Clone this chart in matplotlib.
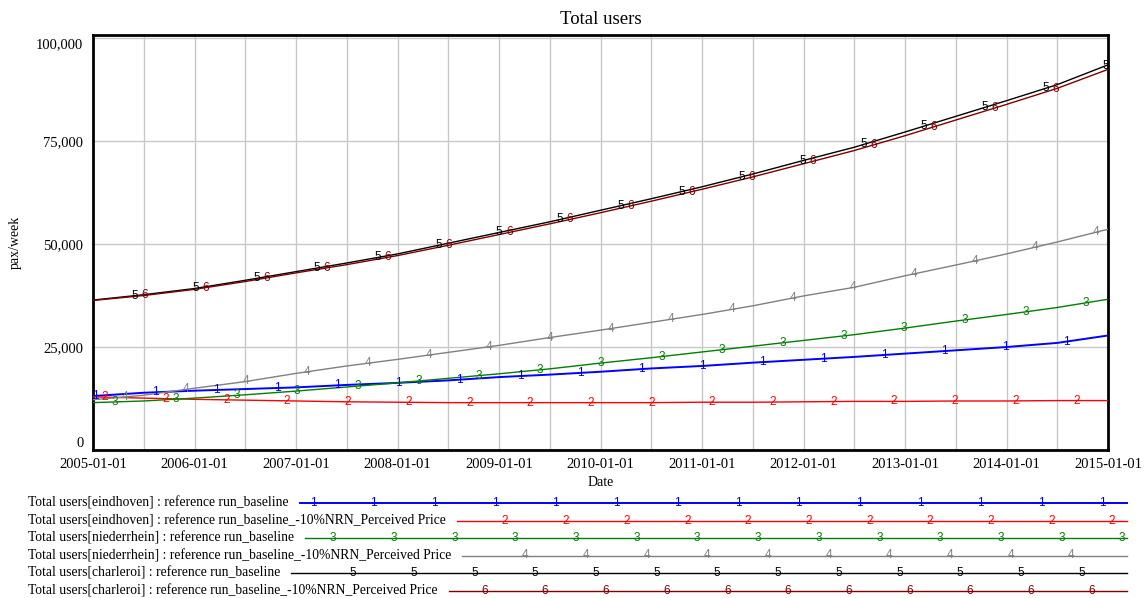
"""Total users, Vensim-style chart: six runs with numbered line markers and a row legend below."""
import numpy as np
import matplotlib

matplotlib.use("Agg")
import matplotlib.pyplot as plt

# half-year steps, 2005-01-01 .. 2015-01-01
years = np.arange(2005.0, 2015.01, 0.5)
tick_years = list(range(2005, 2016))

eind_base = [13.1, 13.9, 14.4, 14.8, 15.2, 15.8, 16.3, 16.9, 17.7, 18.3, 19.0,
             19.8, 20.4, 21.2, 21.9, 22.6, 23.4, 24.2, 25.0, 26.0, 27.8]
eind_price = [12.9, 12.6, 12.3, 12.1, 11.9, 11.7, 11.6, 11.5, 11.5, 11.5, 11.5,
              11.5, 11.6, 11.6, 11.7, 11.8, 11.8, 11.9, 11.9, 12.0, 12.0]
nied_base = [11.5, 11.9, 12.6, 13.4, 14.3, 15.3, 16.3, 17.4, 18.5, 19.7, 21.1,
             22.4, 23.8, 25.2, 26.6, 28.0, 29.6, 31.3, 32.9, 34.6, 36.6]
nied_price = [12.2, 13.3, 15.0, 16.6, 18.6, 20.4, 22.0, 23.7, 25.4, 27.3, 29.1,
              31.0, 32.9, 35.0, 37.4, 39.5, 42.3, 44.9, 47.6, 50.5, 53.6]
char_base = [36.4, 37.7, 39.2, 41.2, 43.3, 45.4, 47.6, 50.2, 52.8, 55.4, 58.2,
             61.0, 63.9, 67.0, 70.3, 73.5, 77.2, 81.0, 84.8, 88.7, 93.5]
char_price = [36.3, 37.5, 39.0, 40.9, 43.0, 45.0, 47.2, 49.7, 52.3, 54.9, 57.6,
              60.4, 63.3, 66.3, 69.5, 72.7, 76.3, 80.1, 83.9, 87.8, 92.4]

names = [
    "Total users[eindhoven] : reference run_baseline",
    "Total users[eindhoven] : reference run_baseline_-10%NRN_Perceived Price",
    "Total users[niederrhein] : reference run_baseline",
    "Total users[niederrhein] : reference run_baseline_-10%NRN_Perceived Price",
    "Total users[charleroi] : reference run_baseline",
    "Total users[charleroi] : reference run_baseline_-10%NRN_Perceived Price",
]
series = [eind_base, eind_price, nied_base, nied_price, char_base, char_price]
colors = ["#0000ff", "#ff0000", "#008000", "#808080", "#000000", "#800000"]
widths = [1.4, 1.0, 1.0, 1.0, 1.0, 1.0]

W, H = 1145, 598
SERIF = "Liberation Serif"
SANS = "Liberation Sans"


def main() -> None:
    fig = plt.figure(figsize=(W / 100, H / 100), dpi=100)
    ax = fig.add_axes([93 / W, 1 - 450 / H, 1015 / W, 415 / H])

    for k, (vals, c, lw) in enumerate(zip(series, colors, widths)):
        v = np.array(vals) * 1000
        ax.plot(years, v, color=c, lw=lw, zorder=3)
        # numbered markers every ~0.6 years, shifted per series (like Vensim)
        px = 2 + 10 * k
        while px <= 1015.5:
            t = 2005 + px / 101.5
            ax.text(t, np.interp(t, years, v), str(k + 1), color=c, fontsize=8.5,
                    family=SANS, ha="center", va="center", zorder=4)
            px += 60.7

    ax.set_xlim(2005, 2015)
    ax.set_ylim(0, 100750)
    ax.set_xticks(tick_years)
    ax.set_xticklabels([f"{y}-01-01" for y in tick_years], family=SERIF, fontsize=10.5)
    ax.set_xticks(np.arange(2005.5, 2015, 1.0), minor=True)
    ax.set_yticks([0, 25000, 50000, 75000, 100000])
    ax.set_yticklabels([f"{v:,}" for v in [0, 25000, 50000, 75000, 100000]],
                       family=SERIF, fontsize=10.5)
    ylabels = ax.get_yticklabels()
    ylabels[0].set_va("bottom")
    ylabels[-1].set_va("top")
    ax.tick_params(which="both", length=0)
    ax.tick_params(axis="y", pad=7)
    ax.tick_params(axis="x", pad=6)
    ax.grid(True, which="both", color="#c8c8c8", lw=1)
    ax.set_axisbelow(True)
    for s in ax.spines.values():
        s.set_linewidth(2)
        s.set_color("black")

    ax.set_title("Total users", family=SERIF, fontsize=13.5, pad=8)
    ax.set_xlabel("Date", family=SERIF, fontsize=10, labelpad=3)
    ax.set_ylabel("pax/week", family=SERIF, fontsize=10, labelpad=10)

    # legend rows under the chart, in pixel coordinates
    lax = fig.add_axes([0, 0, 1, 1])
    lax.set_xlim(0, W)
    lax.set_ylim(H, 0)
    lax.axis("off")
    fig.canvas.draw()
    r = fig.canvas.get_renderer()
    for k, (name, c, lw) in enumerate(zip(names, colors, widths)):
        y = 503 + 17.5 * k
        t = lax.text(28, y, name, family=SERIF, fontsize=9.8, ha="left", va="center")
        x_end = t.get_window_extent(r).x1 + 11
        lax.plot([x_end, 1127], [y, y], color=c, lw=lw)
        mx = 9.5 + 10 * k
        while mx < 1127:
            if mx > x_end + 8:
                lax.text(mx, y, str(k + 1), color=c, fontsize=8.5, family=SANS,
                         ha="center", va="center")
            mx += 60.7

    fig.savefig("out.png", dpi=100)


if __name__ == "__main__":
    main()
